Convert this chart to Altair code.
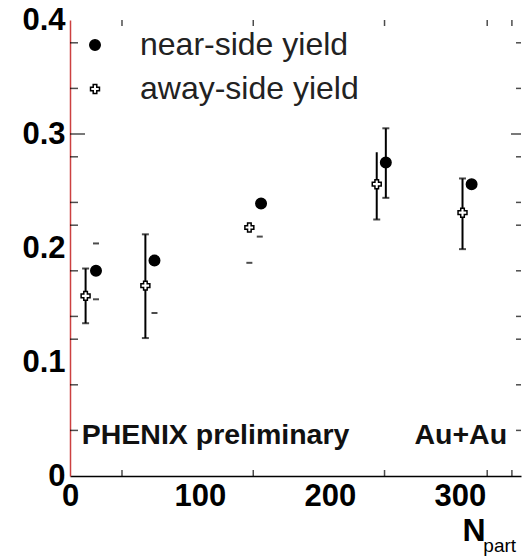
import altair as alt
import pandas as pd

# Per-trigger yields vs. number of participants
series = ["near-side yield", "away-side yield"]

npart_near = [20, 65, 147, 243, 309]
yield_near = [0.180, 0.189, 0.239, 0.275, 0.256]

npart_away = [12, 58, 138, 236, 302]
yield_away = [0.158, 0.167, 0.218, 0.256, 0.231]

# statistical error bars (N_part, low, high, cap drawn on top end)
err_npart = [243, 12, 58, 236, 302]
err_low = [0.244, 0.134, 0.121, 0.225, 0.199]
err_high = [0.305, 0.182, 0.212, 0.284, 0.261]
err_topcap = [True, True, True, False, True]

# short systematic-limit dashes
sys_npart = [20, 20, 65, 146, 138]
sys_yield = [0.204, 0.155, 0.143, 0.210, 0.187]

# axis labels and frame ticks
y_labels = [0, 0.1, 0.2, 0.3, 0.4]
x_labels = [0, 100, 200, 300]
y_minor = [0.04, 0.08, 0.12, 0.14, 0.18, 0.22, 0.24, 0.28, 0.34, 0.38]
y_major = [0.30]
x_minor = [40, 141, 242, 321, 340]

XMAX = 347
YMAX = 0.4

FONT = "Liberation Sans"

pts = pd.DataFrame({
    "npart": npart_near + npart_away,
    "yield": yield_near + yield_away,
    "series": [series[0]] * len(npart_near) + [series[1]] * len(npart_away),
})

errs = pd.DataFrame({"npart": err_npart, "lo": err_low, "hi": err_high})
caps = pd.DataFrame({
    "npart": err_npart + [n for n, t in zip(err_npart, err_topcap) if t],
    "yield": err_low + [h for h, t in zip(err_high, err_topcap) if t],
})
dashes = pd.DataFrame({"npart": sys_npart, "yield": sys_yield})

xscale = alt.Scale(domain=[0, XMAX], nice=False, zero=False)
yscale = alt.Scale(domain=[0, YMAX], nice=False, zero=False)

xaxis = alt.Axis(
    values=x_labels, format="d", ticks=False, grid=False,
    domainColor="black", domainWidth=1.5,
    labelFont=FONT, labelFontSize=31, labelFontWeight="bold", labelColor="black",
    labelPadding=5, labelFlush=False, labelOverlap=False, title=None,
)
yaxis = alt.Axis(
    values=y_labels, labelExpr="datum.value == 0 ? '0' : format(datum.value, '.1f')",
    ticks=False, grid=False, domainColor="#cc4040", domainWidth=1.5,
    labelFont=FONT, labelFontSize=31, labelFontWeight="bold", labelColor="black",
    labelPadding=5, labelOverlap=False, labelFlush=False, title=None,
)


def X(field):
    return alt.X(f"{field}:Q", scale=xscale, axis=xaxis, title=None)


def Y(field):
    return alt.Y(f"{field}:Q", scale=yscale, axis=yaxis, title=None)


bars = alt.Chart(errs).mark_rule(color="black", strokeWidth=2).encode(
    x=X("npart"), y=Y("lo"), y2="hi:Q"
)

cap_marks = alt.Chart(caps).mark_tick(
    orient="horizontal", color="black", size=7, thickness=2
).encode(x=X("npart"), y=Y("yield"))

dash_marks = alt.Chart(dashes).mark_tick(
    orient="horizontal", color="black", size=6, thickness=2
).encode(x=X("npart"), y=Y("yield"))

legend = alt.Legend(
    title=None, orient="none", legendX=9, legendY=9,
    labelFont=FONT, labelFontSize=32, labelColor="#222222", labelLimit=0,
    labelOffset=29, rowPadding=12, padding=0,
    symbolStrokeWidth=1.5,
)

points = alt.Chart(pts).mark_point(
    filled=True, strokeWidth=1.5, opacity=1
).encode(
    x=X("npart"),
    y=Y("yield"),
    shape=alt.Shape("series:N", scale=alt.Scale(domain=series, range=["circle", "cross"]), legend=legend),
    fill=alt.Fill("series:N", scale=alt.Scale(domain=series, range=["black", "white"]), legend=legend),
    stroke=alt.Stroke("series:N", scale=alt.Scale(domain=series, range=["black", "black"]), legend=legend),
    size=alt.Size("series:N", scale=alt.Scale(domain=series, range=[110, 80]), legend=legend),
)

# inward frame ticks
left_minor = alt.Chart(pd.DataFrame({"x": [0] * len(y_minor), "y": y_minor})).mark_tick(
    orient="horizontal", color="black", size=8, thickness=1.5, xOffset=4
).encode(x=X("x"), y=Y("y"))
left_major = alt.Chart(pd.DataFrame({"x": [0] * len(y_major), "y": y_major})).mark_tick(
    orient="horizontal", color="black", size=15, thickness=1.5, xOffset=7.5
).encode(x=X("x"), y=Y("y"))
right_minor = alt.Chart(pd.DataFrame({"x": [XMAX] * len(y_minor), "y": y_minor})).mark_tick(
    orient="horizontal", color="black", size=5, thickness=1.5, xOffset=-2.5
).encode(x=X("x"), y=Y("y"))
right_major = alt.Chart(pd.DataFrame({"x": [XMAX] * len(y_major), "y": y_major})).mark_tick(
    orient="horizontal", color="black", size=10, thickness=1.5, xOffset=-5
).encode(x=X("x"), y=Y("y"))
bottom_ticks = alt.Chart(pd.DataFrame({"x": x_minor, "y": [0] * len(x_minor)})).mark_tick(
    orient="vertical", color="black", size=6, thickness=1.5, yOffset=-3
).encode(x=X("x"), y=Y("y"))
top_ticks = alt.Chart(pd.DataFrame({"x": x_minor, "y": [YMAX] * len(x_minor)})).mark_tick(
    orient="vertical", color="black", size=6, thickness=1.5, yOffset=3
).encode(x=X("x"), y=Y("y"))

# text annotations
notes = pd.DataFrame({
    "x": [9, 265],
    "y": [0.036, 0.036],
    "t": ["PHENIX preliminary", "Au+Au"],
})
note_marks = alt.Chart(notes).mark_text(
    font=FONT, fontSize=28.5, fontWeight="bold", align="left", baseline="middle", color="#111111"
).encode(x=X("x"), y=Y("y"), text="t:N")

n_label = alt.Chart(pd.DataFrame({"x": [302], "y": [-0.048], "t": ["N"]})).mark_text(
    font=FONT, fontSize=32, fontWeight="bold", align="left", baseline="middle", color="black"
).encode(x=X("x"), y=Y("y"), text="t:N")
part_label = alt.Chart(pd.DataFrame({"x": [318], "y": [-0.061], "t": ["part"]})).mark_text(
    font=FONT, fontSize=19, align="left", baseline="middle", color="black"
).encode(x=X("x"), y=Y("y"), text="t:N")

chart = alt.layer(
    bars, cap_marks, dash_marks,
    left_minor, left_major, right_minor, right_major, bottom_ticks, top_ticks,
    note_marks, n_label, part_label, points,
).properties(
    width=451, height=456,
    autosize=alt.AutoSizeParams(type="none"),
    padding={"left": 70, "top": 20, "right": 1, "bottom": 80},
    background="white",
).configure_view(stroke=None)

chart.save("out.html", embed_options={"renderer": "svg", "actions": False})
